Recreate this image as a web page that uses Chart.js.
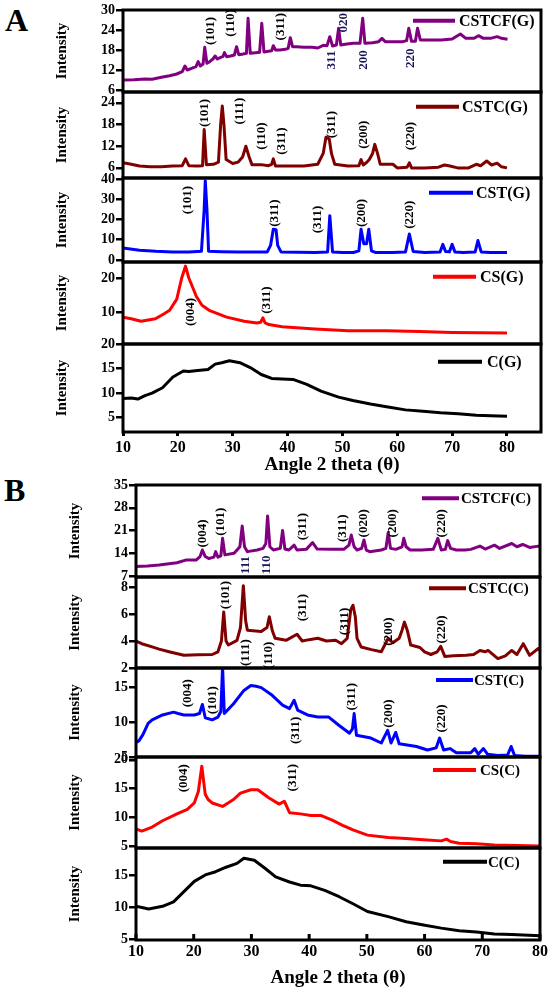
<!DOCTYPE html>
<html>
<head>
<meta charset="utf-8">
<script src="https://cdn.jsdelivr.net/npm/chart.js@4.4.1/dist/chart.umd.min.js"></script>
<style>
  body { margin: 0; background: #fff; width: 556px; height: 992px; position: relative; overflow: hidden; }
  .letter { position: absolute; font: bold 32px "Liberation Serif", serif; line-height: 1; color: #000; }
  canvas { position: absolute; left: 0; }
</style>
</head>
<body>
<div class="letter" style="left:5px;top:4px">A</div>
<div class="letter" style="left:4px;top:474px">B</div>
<script>
/* ===== XRD patterns, panels A (G) and B (C) ===== */

// ---- data: [2 theta, intensity] ----
var cstcfG = [[10,9],[12,9.1],[14,9.3],[15.3,9.2],[17,9.8],[18.5,10.3],[19.8,10.8],[20.8,11.5],[21.3,13.2],[21.7,12],[22.5,12.5],[23.3,13],[23.7,14.5],[24.1,13.2],[24.6,13.8],[24.9,18.8],[25.3,14],[25.8,14.5],[26.4,15.3],[26.8,16.2],[27.2,15.3],[27.8,15.8],[28.2,16],[28.5,17.2],[28.9,16],[29.6,16.2],[30.3,16.5],[30.7,19],[31.1,16.6],[31.9,16.8],[32.5,17],[32.8,27.5],[33.2,17],[34.2,17.2],[34.9,17.3],[35.3,26],[35.7,17.4],[36.5,17.6],[37.1,17.8],[37.4,19.3],[37.8,18],[38.6,18],[39.6,18.2],[40.1,18.5],[40.5,21.7],[40.9,19],[41.6,19],[43,18.8],[44.5,18.8],[45.5,18.6],[46.5,19.4],[47.2,19.3],[47.7,22],[48.2,19.2],[48.9,19.5],[49.3,24.5],[49.7,19.5],[50.8,19.8],[52,20],[53.2,20],[53.7,27.5],[54.1,20],[55.5,20.2],[56.6,20.5],[57.2,21.5],[57.8,20.5],[59.5,20.5],[61,20.5],[61.7,20.8],[62.1,24.5],[62.6,20.6],[63.3,20.6],[63.7,24.5],[64.2,21],[66,21],[68,21],[70,21.3],[71.5,22.8],[72.5,21.5],[74,21.5],[74.8,22.3],[75.7,21.5],[77,21.5],[78.2,22],[79,21.5],[80.1,21.2]];
var cstcG = [[10,7.4],[11.5,7],[13,6.5],[15,6.3],[17,6.3],[19,6.5],[20.8,6.6],[21.4,8.5],[22,6.6],[23.5,6.5],[24.5,6.6],[24.8,16.6],[25.2,6.9],[26.5,7],[27.4,7.6],[27.8,18],[28.1,23.1],[28.4,18],[28.8,8.3],[30,7.2],[31,7.6],[31.8,9],[32.4,12],[33,9],[33.5,6.9],[35.2,6.9],[36.5,6.6],[37.1,7],[37.4,8.5],[37.8,6.5],[40,6.5],[43,6.5],[45.5,7],[46.5,10],[47,14.5],[47.6,14],[48,10],[48.6,7],[51,6.5],[53,6.6],[53.4,8.3],[53.8,6.8],[54.4,7.5],[54.9,8.3],[55.5,10],[55.9,12.5],[56.4,10],[56.9,7],[58.5,7],[59.2,7],[60,6],[61.8,6.2],[62.2,7.4],[62.6,6],[65,6],[67.5,6.2],[68.6,6.8],[69.6,6.5],[71,6],[73,6],[74.4,7],[75.2,6.6],[76.3,7.9],[77.2,6.8],[78.2,7.3],[79,6.3],[80,6]];
var cstG = [[10,5.9],[13,4.8],[16,4.3],[19,4],[22,4],[24.3,4.3],[24.8,25],[25,39.2],[25.3,25],[25.6,4.3],[28,4.1],[31,4],[34,4],[36.3,4],[36.9,7.2],[37.4,15.2],[37.9,15],[38.2,7.2],[38.8,4],[42,3.8],[45,3.7],[47.3,4],[47.7,21.9],[48.2,4],[50,3.7],[52,3.7],[53,4.5],[53.4,15.2],[53.9,8],[54.4,8],[54.8,15.2],[55.3,4.5],[56,3.7],[59,3.7],[61.5,4],[62.2,12.8],[62.9,4.2],[65,3.7],[67.8,3.9],[68.3,7.7],[68.8,4.2],[69.5,4],[70,7.7],[70.5,4],[72,3.7],[74.2,4],[74.7,9.6],[75.3,4],[77,3.7],[80,3.7]];
var csG = [[10,8.5],[11.5,8],[13.3,7.3],[15.9,8],[17.5,9.5],[18.5,10.5],[19.8,13.8],[20.7,20],[21.4,23.5],[22,20],[23.4,14.5],[24.4,12],[25.7,10.5],[28.9,8.5],[32.1,7.3],[34.4,6.8],[35.1,7],[35.5,8.3],[35.9,6.8],[36.6,6.3],[39,5.7],[45,5],[51,4.5],[58,4.5],[64,4.3],[70,4],[80,3.8]];
var cG = [[10,8.9],[11.5,9],[12.7,8.8],[14,9.5],[15.3,10],[17.2,11.1],[19.1,13.3],[21,14.5],[22,14.4],[23.6,14.6],[25.5,14.8],[26.8,15.9],[28,16.2],[29.4,16.6],[31.3,16.2],[33.2,15.2],[35.2,13.8],[37.1,13],[39,12.9],[41,12.8],[43.5,11.8],[46.1,10.4],[49.3,9.2],[51.9,8.5],[55.1,7.8],[58.3,7.2],[61.5,6.6],[64.7,6.3],[67.9,6],[71.1,5.8],[74.4,5.5],[77,5.4],[80,5.3]];

var cstcfC = [[10,9.9],[12,10.1],[14,10.4],[17.1,11.1],[18.6,11.9],[20.4,11.9],[21.1,13],[21.5,15],[22,13],[22.6,12.4],[23.5,12.8],[23.8,14.5],[24.2,12.8],[24.7,13.2],[25,18.6],[25.4,13.5],[27,14],[28,16],[28.4,22.4],[28.8,16],[29.3,14.5],[31,15],[32,15.5],[32.5,17],[32.8,25.5],[33.2,16],[33.8,15],[35,15.5],[35.4,21],[35.8,15.3],[36.5,15],[37.4,16.5],[37.9,15],[39.5,15.2],[40.6,17.3],[41.4,15.3],[44,15.2],[46,15.2],[46.9,16.5],[47.3,19.6],[47.8,16],[48.3,15],[49.1,15.5],[49.5,18.1],[49.9,15],[50.5,14.5],[52.5,15],[53.3,15.5],[53.7,20.4],[54.1,15.5],[55,15.2],[56.1,16],[56.4,18.6],[56.8,16],[57.5,15],[59.5,15],[61.5,15.2],[62.3,18.6],[62.9,15],[63.6,15.2],[64,17.9],[64.5,15.5],[65.5,15],[67,15],[68,15.2],[69.6,16.2],[70.5,15.3],[72.1,16.5],[73,15.5],[75.1,17],[76,16],[77,16.7],[78.2,15.8],[79.7,16.2],[80,16]];
var cstcC = [[10,4],[11,3.8],[12.8,3.56],[14,3.4],[15.9,3.19],[18.3,2.94],[20.8,2.98],[23.2,3],[24.2,3.2],[24.8,4],[25.2,6.15],[25.6,4],[26,3.7],[27.5,4.05],[28.1,5],[28.6,8.1],[29,5.5],[29.3,4.8],[31.7,4.7],[32.7,5],[33.1,5.8],[33.6,4.8],[34.1,4.2],[36,4.05],[37.9,4.5],[38.8,4],[40,4.1],[41.5,4.2],[43,4],[44.6,4.05],[45.6,3.8],[46.6,4.2],[47.2,6.3],[47.6,6.65],[48,5.8],[48.3,4.2],[49,3.56],[50.8,3.36],[52.5,3.2],[53.7,4.2],[54.5,3.87],[55.6,4.2],[56.1,4.8],[56.5,5.4],[57,4.8],[57.6,3.7],[59.2,3.52],[60,3.2],[61.1,3],[62.2,3.2],[62.8,3.6],[63.5,2.86],[65,2.9],[67.2,2.94],[68.5,3],[69.6,3.3],[70.5,3.2],[71,3.3],[72.7,2.7],[74,2.9],[75.1,3.3],[76,3],[77.1,3.8],[78.2,2.94],[79.7,3.44],[80,3.3]];
var cstC = [[10,7.1],[10.5,7.3],[11.2,8.2],[12.1,9.8],[12.8,10.3],[14.6,11],[16.5,11.4],[17.3,11.2],[18.3,11],[20.1,11],[21,11.2],[21.5,12.5],[22,10.6],[23.2,10.3],[24.2,10.7],[24.7,11.5],[25,17.9],[25.3,11.2],[26.9,12.6],[28.7,14.5],[29.9,15.2],[30.8,15.1],[31.7,14.9],[33.6,13.8],[35.4,12.4],[36.6,11.9],[37.4,13.1],[38,11.7],[39.7,11],[41.5,10.7],[43.4,10.7],[45.2,9.5],[47,8.4],[47.5,9],[47.8,11.2],[48.2,8.1],[50.7,7.7],[52.5,7],[53.6,8.8],[54.2,7],[55,8.5],[55.6,6.9],[58.6,6.5],[60.5,6],[62,6.3],[62.6,7.7],[63.3,6],[64.4,6.2],[65.5,5.6],[68,5.6],[68.7,6.2],[69.3,5.4],[70.2,6.2],[70.9,5.4],[72.7,5.2],[74.4,5.3],[75,6.5],[75.6,5.2],[77.5,5.1],[80,5.1]];
var csC = [[10,8],[11,7.6],[12.8,8.3],[14.6,9.4],[17.1,10.6],[18.9,11.4],[20.1,12.5],[20.8,14.5],[21.4,18.9],[22,14],[22.5,13.1],[23.2,12.5],[25,11.9],[26.9,13.1],[28.1,14.2],[29.9,14.8],[31.1,14.8],[33,13.4],[34.8,12.3],[35.7,12.8],[36.6,10.8],[38.5,10.6],[40.3,10.3],[42.1,10.3],[44,9.5],[45.8,8.6],[47.6,7.8],[50.1,6.9],[53.7,6.5],[56.8,6.3],[59.8,6.1],[62.9,5.9],[63.8,6.2],[64.5,5.8],[66,5.5],[69,5.4],[72.1,5.2],[76,5.1],[80,5]];
var cC = [[10,10.1],[12.2,9.7],[14.6,10.1],[16.5,10.8],[18.3,12.4],[20.1,14],[22,15],[23.8,15.5],[25.6,16.2],[27.5,16.8],[28.7,17.6],[30.5,17.3],[32.4,16],[34.2,14.7],[36.6,13.9],[38.5,13.4],[40.3,13.3],[42.7,12.6],[45.2,11.6],[47.6,10.5],[50.1,9.3],[53.7,8.5],[56.8,7.7],[59.8,7.2],[62.9,6.7],[66,6.3],[69,6.1],[72.1,5.8],[75.1,5.7],[80,5.5]];

// ---- peak labels: [text, 2 theta, intensity] ----
var cstcfG_hkl = [['(101)',25.9,23.7],['(110)',29.7,26.1],['(311)',38.7,25],['020',50.3,26.2],['311',48.0,15],['200',53.8,15],['220',62.5,15.5]];
var cstcG_hkl  = [['(101)',24.9,21.2],['(111)',31.3,21.7],['(110)',35.2,14.8],['(311)',39.0,13.4],['(311)',48.0,18],['(200)',53.8,15.2],['(220)',62.5,14.8]];
var cstG_hkl   = [['(101)',21.7,29.6],['(311)',37.6,23.2],['(311)',45.5,20],['(200)',53.5,23.2],['(220)',62.3,22.4]];
var csG_hkl    = [['(004)',22.3,10],['(311)',36.1,13.5]];
var cstcfC_hkl = [['(004)',21.5,20.1],['(101)',24.7,23.7],['111',29,10.4],['110',32.7,10.4],['(311)',38.8,22.2],['(311)',45.8,21.7],['(020)',49.5,23.2],['(200)',54.4,23.2],['(220)',62.9,23.2]];
var cstcC_hkl  = [['(101)',25.5,7.4],['(111)',29,3.14],['(110)',33,2.94],['(311)',38.8,6.47],['(311)',46.1,5.45],['(200)',53.7,4.7],['(220)',62.9,4.85]];
var cstC_hkl   = [['(004)',18.9,14.1],['(101)',23.2,13.1],['(311)',37.6,8.8],['(311)',47.3,13.6],['(200)',53.7,11.2],['(220)',62.9,10.5]];
var csC_hkl    = [['(004)',18.2,16.8],['(311)',37.1,16.9]];

// ---- tick labels ----
var xTicks = [10, 20, 30, 40, 50, 60, 70, 80];
var cstcfG_ticks = [6, 12, 18, 24, 30];
var cstcG_ticks  = [6, 12, 18, 24];
var cstG_ticks   = [0, 10, 20, 30, 40];
var csG_ticks    = [10, 20];
var cG_ticks     = [5, 10, 15, 20];
var cstcfC_ticks = [7, 14, 21, 28, 35];
var cstcC_ticks  = [2, 4, 6, 8];
var cstC_ticks   = [5, 10, 15];
var csC_ticks    = [5, 10, 15, 20];
var cC_ticks     = [5, 10, 15];

var SERIF = '"Liberation Serif", "Times New Roman", serif';
var PAD = 12, XAXIS_H = 50;

var panelA = { left: 123, right: 541, xMax: 86.2, titlePad: 53, legendSize: 16, innerTicks: false, titleBottom: 5.6 };
var panelB = { left: 136, right: 540, xMax: 80, titlePad: 66, legendSize: 15, innerTicks: true, titleBottom: 0.6 };

// draws frame, hkl labels and the small legend of one sub-plot
var panelDecor = {
  id: 'panelDecor',
  afterDraw: function(chart, args, o) {
    var ctx = chart.ctx, a = chart.chartArea;
    var xs = chart.scales.x, ys = chart.scales.y;
    ctx.save();
    ctx.beginPath();
    ctx.rect(a.left, a.top, a.right - a.left, a.bottom - a.top);
    ctx.clip();
    ctx.font = 'bold 13px ' + SERIF;
    ctx.textAlign = 'center';
    ctx.textBaseline = 'middle';
    o.notes.forEach(function(n) {
      ctx.save();
      ctx.translate(xs.getPixelForValue(n[1]), ys.getPixelForValue(n[2]));
      ctx.rotate(-Math.PI / 2);
      ctx.fillStyle = n[0].charAt(0) === '(' ? '#000' : '#15155a';
      ctx.fillText(n[0], 0, 0);
      ctx.restore();
    });
    ctx.restore();

    ctx.save();
    var ly = a.top + o.legend.y;
    ctx.strokeStyle = o.color; ctx.lineWidth = 4;
    ctx.beginPath(); ctx.moveTo(o.legend.x1, ly); ctx.lineTo(o.legend.x2, ly); ctx.stroke();
    ctx.fillStyle = '#000';
    ctx.font = 'bold ' + o.legendSize + 'px ' + SERIF;
    ctx.textAlign = 'left'; ctx.textBaseline = 'middle';
    ctx.fillText(o.name, o.legend.tx, ly + 1);

    ctx.strokeStyle = '#000';
    if (o.innerTicks && o.last) {
      ctx.lineWidth = 3;
      xTicks.forEach(function(v) {
        var px = xs.getPixelForValue(v);
        ctx.beginPath(); ctx.moveTo(px, a.bottom); ctx.lineTo(px, a.bottom - 6); ctx.stroke();
      });
    }
    ctx.lineWidth = 3;
    ctx.strokeRect(a.left, a.top, a.right - a.left, a.bottom - a.top);
    ctx.restore();
  }
};

function createSubplot(panel, s) {
  var last = !!s.last;
  var canvas = document.createElement('canvas');
  var h = (s.bottom - s.top) + PAD + (last ? XAXIS_H : PAD);
  canvas.width = 556; canvas.height = h;
  canvas.style.top = (s.top - PAD) + 'px';
  document.body.appendChild(canvas);

  return new Chart(canvas.getContext('2d'), {
    type: 'line',
    data: { datasets: [{
      data: s.data.map(function(p) { return { x: p[0], y: p[1] }; }),
      borderColor: s.color, borderWidth: 3, pointRadius: 0,
      tension: 0, fill: false, borderJoinStyle: 'round'
    }] },
    options: {
      responsive: false, animation: false, events: [],
      layout: { autoPadding: false, padding: { left: 0, top: PAD, right: 556 - panel.right, bottom: last ? 0 : PAD } },
      plugins: {
        legend: { display: false }, tooltip: { enabled: false },
        panelDecor: { notes: s.notes || [], color: s.color, name: s.name, legend: s.legend,
                      legendSize: panel.legendSize, innerTicks: panel.innerTicks, last: last }
      },
      scales: {
        x: {
          type: 'linear', min: 10, max: panel.xMax, display: last,
          afterBuildTicks: function(sc) { sc.ticks = xTicks.map(function(v) { return { value: v }; }); },
          afterFit: function(sc) { sc.height = last ? XAXIS_H : 0; },
          border: { display: false },
          grid: { drawOnChartArea: false, drawTicks: !panel.innerTicks, tickLength: 4, lineWidth: 3, color: '#000' },
          ticks: { color: '#000', padding: 2, maxRotation: 0, autoSkip: false, font: { family: SERIF, size: 16, weight: 'bold' } },
          title: { display: true, text: 'Angle 2 theta (\u03b8)', color: '#000',
                   font: { family: SERIF, size: 19, weight: 'bold' }, padding: { top: 0, bottom: panel.titleBottom } }
        },
        y: {
          min: s.yMin, max: s.yMax,
          afterBuildTicks: function(sc) { sc.ticks = s.ticks.map(function(v) { return { value: v }; }); },
          afterFit: function(sc) { sc.width = panel.left; },
          border: { display: false },
          grid: { drawOnChartArea: false, drawTicks: true, tickLength: 7, lineWidth: 2.5, color: '#000' },
          ticks: { color: '#000', padding: 1, autoSkip: false, font: { family: SERIF, size: 14, weight: 'bold' } },
          title: { display: true, text: 'Intensity', color: '#000',
                   font: { family: SERIF, size: 15, weight: 'bold' }, padding: { top: panel.titlePad, bottom: 0 } }
        }
      }
    },
    plugins: [panelDecor]
  });
}

// ---- panel A ----
createSubplot(panelA, { top: 10,  bottom: 92,  yMin: 5.4, yMax: 30,   ticks: cstcfG_ticks, data: cstcfG, notes: cstcfG_hkl, color: '#800080', name: 'CSTCF(G)', legend: { x1: 413, x2: 455, tx: 459, y: 10.7 } });
createSubplot(panelA, { top: 92,  bottom: 178, yMin: 3.2, yMax: 27,   ticks: cstcG_ticks,  data: cstcG,  notes: cstcG_hkl,  color: '#800000', name: 'CSTC(G)',  legend: { x1: 416, x2: 459, tx: 462, y: 14.7 } });
createSubplot(panelA, { top: 178, bottom: 262, yMin: -1,  yMax: 40.5, ticks: cstG_ticks,   data: cstG,   notes: cstG_hkl,   color: '#0000ff', name: 'CST(G)',   legend: { x1: 429, x2: 473, tx: 476, y: 14.7 } });
createSubplot(panelA, { top: 262, bottom: 344, yMin: 0.6, yMax: 24.7, ticks: csG_ticks,    data: csG,    notes: csG_hkl,    color: '#ff0000', name: 'CS(G)',    legend: { x1: 433, x2: 476, tx: 480, y: 14.7 } });
createSubplot(panelA, { top: 344, bottom: 432, yMin: 2.1, yMax: 20,   ticks: cG_ticks,     data: cG,     notes: [],         color: '#000000', name: 'C(G)',     legend: { x1: 438, x2: 482, tx: 487, y: 17.7 }, last: true });

// ---- panel B ----
createSubplot(panelB, { top: 485, bottom: 577, yMin: 6.7,  yMax: 35,   ticks: cstcfC_ticks, data: cstcfC, notes: cstcfC_hkl, color: '#800080', name: 'CSTCF(C)', legend: { x1: 422, x2: 459, tx: 461, y: 13.3 } });
createSubplot(panelB, { top: 577, bottom: 668, yMin: 2,    yMax: 8.74, ticks: cstcC_ticks,  data: cstcC,  notes: cstcC_hkl,  color: '#800000', name: 'CSTC(C)',  legend: { x1: 429, x2: 466, tx: 468, y: 11.3 } });
createSubplot(panelB, { top: 668, bottom: 757, yMin: 5,    yMax: 17.7, ticks: cstC_ticks,   data: cstC,   notes: cstC_hkl,   color: '#0000ff', name: 'CST(C)',   legend: { x1: 436, x2: 473, tx: 474, y: 12 } });
createSubplot(panelB, { top: 757, bottom: 848, yMin: 4.66, yMax: 20.5, ticks: csC_ticks,    data: csC,    notes: csC_hkl,    color: '#ff0000', name: 'CS(C)',    legend: { x1: 433, x2: 476, tx: 480, y: 13 } });
createSubplot(panelB, { top: 848, bottom: 940, yMin: 4.85, yMax: 19.2, ticks: cC_ticks,     data: cC,     notes: [],         color: '#000000', name: 'C(C)',     legend: { x1: 443, x2: 487, tx: 488, y: 13.7 }, last: true });
</script>
</body>
</html>
